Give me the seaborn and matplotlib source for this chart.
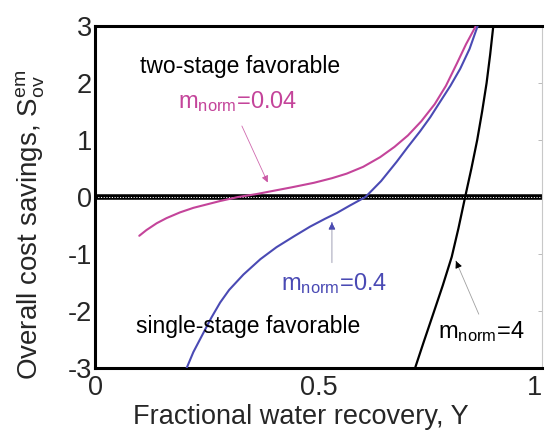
import pandas as pd
import seaborn as sns
import matplotlib
matplotlib.use("Agg")
import matplotlib.pyplot as plt

# Curves (Y, overall cost savings)
y_004 = [0.099, 0.115, 0.138, 0.16, 0.19, 0.22, 0.25, 0.28, 0.32, 0.36, 0.40, 0.44, 0.49,
         0.53, 0.563, 0.60, 0.638, 0.67, 0.70, 0.73, 0.76, 0.785, 0.81, 0.83, 0.852]
s_004 = [-0.68, -0.58, -0.46, -0.37, -0.27, -0.19, -0.13, -0.07, 0.0, 0.05, 0.11, 0.17, 0.25,
         0.33, 0.41, 0.53, 0.70, 0.88, 1.08, 1.33, 1.63, 1.95, 2.35, 2.68, 3.0]

y_04 = [0.205, 0.22, 0.242, 0.26, 0.28, 0.30, 0.332, 0.37, 0.406, 0.445, 0.481, 0.515, 0.541,
        0.57, 0.605, 0.64, 0.675, 0.70, 0.727, 0.75, 0.772, 0.795, 0.817, 0.838, 0.856]
s_04 = [-3.0, -2.72, -2.39, -2.12, -1.85, -1.63, -1.36, -1.09, -0.88, -0.69, -0.52, -0.38, -0.28,
        -0.15, 0.0, 0.28, 0.62, 0.88, 1.15, 1.4, 1.67, 1.95, 2.25, 2.6, 3.0]

y_4 = [0.716, 0.735, 0.757, 0.778, 0.798, 0.813, 0.828, 0.842, 0.855, 0.866, 0.876, 0.884, 0.891]
s_4 = [-3.0, -2.55, -2.04, -1.55, -1.05, -0.55, 0.0, 0.5, 1.0, 1.5, 2.0, 2.5, 3.0]

x_ticks = [0, 0.5, 1]
x_labels = ["0", "0.5", "1"]
y_ticks = [-3, -2, -1, 0, 1, 2, 3]

pink = "#C4449A"
blue = "#4A4AB4"

sns.set_style("white")
plt.rcParams["font.family"] = ["Liberation Sans", "DejaVu Sans"]
plt.rcParams["mathtext.fontset"] = "custom"
plt.rcParams["mathtext.rm"] = "Liberation Sans"
plt.rcParams["mathtext.it"] = "Liberation Sans:italic"
plt.rcParams["axes.unicode_minus"] = False

fig = plt.figure(figsize=(5.47, 4.33), dpi=100)
ax = fig.add_axes([0.1737, 0.150, 0.8172, 0.790])

# zero line: thick black beaded look
ax.axhline(0, color="black", lw=4, zorder=1)
ax.axhline(0, color="white", lw=0.7, ls=(0, (1.2, 1.6)), zorder=1)

sns.lineplot(x=y_004, y=s_004, sort=False, color=pink, lw=1.5, ax=ax, zorder=3)
sns.lineplot(x=y_04, y=s_04, sort=False, color=blue, lw=1.5, ax=ax, zorder=3)
sns.lineplot(x=y_4, y=s_4, sort=False, color="black", lw=1.6, ax=ax, zorder=3)

ax.set_xlim(0, 1)
ax.set_ylim(-3, 3)
ax.set_xticks(x_ticks)
ax.set_xticklabels(x_labels)
ax.set_yticks(y_ticks)

for side in ["left", "bottom", "top"]:
    ax.spines[side].set_color("black")
    ax.spines[side].set_linewidth(2.2)
ax.spines["right"].set_color("#c8c8c8")
ax.spines["right"].set_linewidth(0.8)

ax.tick_params(axis="both", direction="in", length=3, width=0.6, color="#b0b0b0",
               labelsize=19.5, right=True)
ax.tick_params(axis="y", pad=2)
ax.tick_params(axis="x", pad=5)
ax.get_xticklabels()[-1].set_horizontalalignment("right")

ax.set_xlabel("Fractional water recovery, Y", fontsize=19.5)
ax.xaxis.set_label_coords(0.46, -0.105)
ax.set_ylabel(r"Overall cost savings, $\mathregular{S_{ov}^{em}}$", fontsize=20)
ax.yaxis.set_label_coords(-0.108, 0.42)

# annotations
ax.text(0.10, 2.18, "two-stage favorable", fontsize=16.5, color="black")
ax.text(0.186, 1.56, r"$\mathregular{m_{norm}}$=0.04", fontsize=17, color=pink)
ax.text(0.092, -2.38, "single-stage favorable", fontsize=16.5, color="black")
ax.text(0.416, -1.63, r"$\mathregular{m_{norm}}$=0.4", fontsize=17, color=blue)
ax.text(0.767, -2.48, r"$\mathregular{m_{norm}}$=4", fontsize=17, color="black")

ax.annotate("", xy=(0.389, 0.21), xytext=(0.326, 1.29),
            arrowprops=dict(arrowstyle="-|>", color=pink, lw=0.6, mutation_scale=10, alpha=0.8))
ax.annotate("", xy=(0.53, -0.40), xytext=(0.53, -1.20),
            arrowprops=dict(arrowstyle="-|>", color="#9090a8", lw=0.6, mutation_scale=10))
ax.annotate("", xy=(0.53, -0.40), xytext=(0.53, -0.5),
            arrowprops=dict(arrowstyle="-|>", color=blue, lw=0.6, mutation_scale=10))
ax.annotate("", xy=(0.805, -1.08), xytext=(0.861, -2.1),
            arrowprops=dict(arrowstyle="-|>", color="#a0a0a0", lw=0.6, mutation_scale=10))
ax.annotate("", xy=(0.805, -1.08), xytext=(0.81, -1.17),
            arrowprops=dict(arrowstyle="-|>", color="black", lw=0.6, mutation_scale=10))

fig.savefig("out.png", dpi=100)
